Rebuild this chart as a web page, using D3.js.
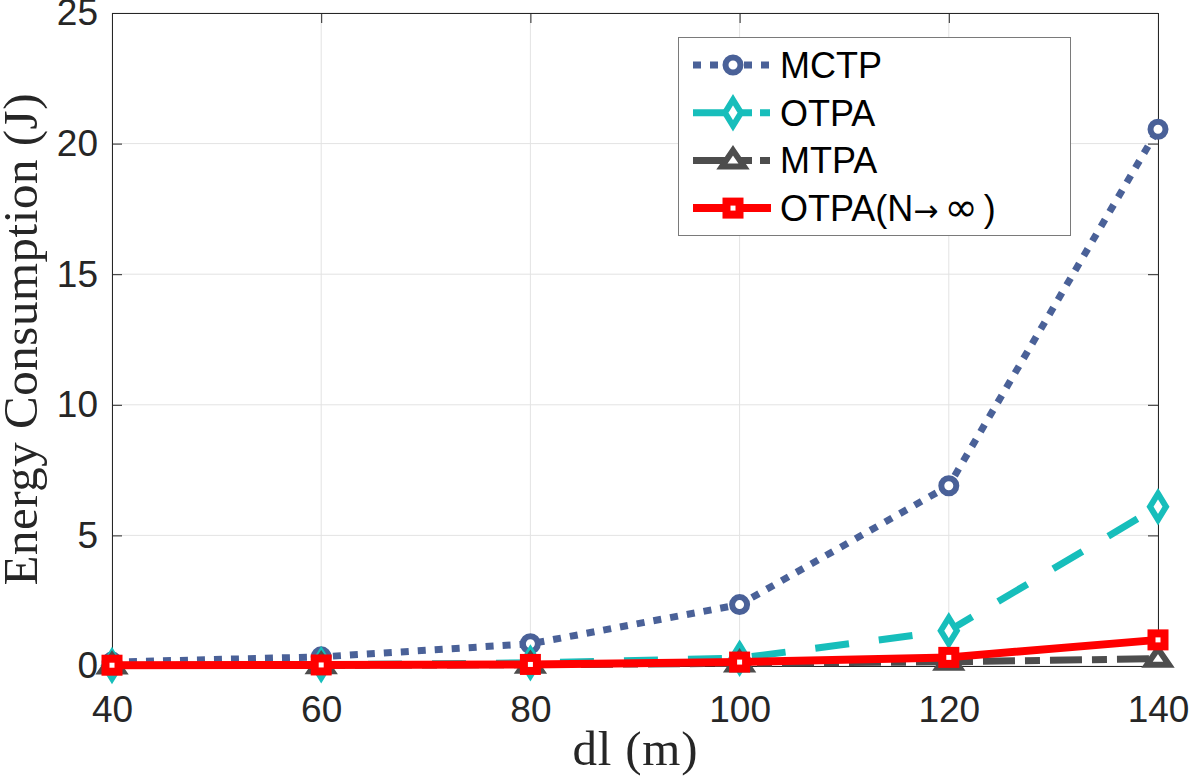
<!DOCTYPE html>
<html>
  <head>
    <meta charset="utf-8">
    <title>Energy Consumption vs dl</title>
    <style>
      body { margin: 0; background: #fff; }
      .tick text { font-family: "Liberation Sans", Arial, sans-serif; font-size: 37px; fill: #262626; }
      .label { font-family: "Liberation Serif", "Times New Roman", serif; font-size: 49px; fill: #262626; }
      .legend text { font-family: "Liberation Sans", Arial, sans-serif; font-size: 36px; fill: #000; }
    </style>
  </head>
  <body>
    <svg width="1193" height="779"></svg>
    <script src="https://d3js.org/d3.v7.min.js"></script>
    <script>
      // values
      const dl = [40, 60, 80, 100, 120, 140];
      const mctp = [0.15, 0.35, 0.85, 2.35, 6.9, 20.55];
      const otpa = [0.02, 0.05, 0.12, 0.3, 1.35, 6.1];
      const mtpa = [0.02, 0.03, 0.05, 0.1, 0.16, 0.28];
      const otpaInf = [0.03, 0.04, 0.06, 0.15, 0.33, 1.0];

      const xTicks = [40, 60, 80, 100, 120, 140];
      const yTicks = [0, 5, 10, 15, 20, 25];
      const names = ["MCTP", "OTPA", "MTPA", "OTPA(N\u2192\u221E)"];

      const series = [
        { name: names[0], values: mctp, color: "#4a6198", dash: "8,9", width: 7, marker: "circle" },
        { name: names[1], values: otpa, color: "#17bebb", dash: "34,30", width: 7, marker: "diamond", legendDash: "59,8,10,40" },
        { name: names[2], values: mtpa, color: "#4d4d4d", dash: "32,10,15,10", width: 7, marker: "triangle", legendDash: "59,8,10,40" },
        { name: names[3], values: otpaInf, color: "#ff0000", dash: null, width: 8, marker: "square" }
      ];

      const margin = { left: 112, right: 35, top: 13, bottom: 113 };
      const W = 1193, H = 779;
      const svg = d3.select("svg");

      const x = d3.scaleLinear().domain([40, 140]).range([margin.left, W - margin.right]);
      const y = d3.scaleLinear().domain([0, 25]).range([H - margin.bottom, margin.top]);

      // grid
      svg.append("g").selectAll("line").data(xTicks).join("line")
        .attr("x1", d => x(d)).attr("x2", d => x(d))
        .attr("y1", y(0)).attr("y2", y(25))
        .attr("stroke", "#e3e3e3").attr("stroke-width", 1);
      svg.append("g").selectAll("line").data(yTicks).join("line")
        .attr("x1", x(40)).attr("x2", x(140))
        .attr("y1", d => y(d)).attr("y2", d => y(d))
        .attr("stroke", "#e3e3e3").attr("stroke-width", 1);

      // axes, ticks pointing inside
      svg.append("g").attr("transform", `translate(0,${y(0)})`)
        .call(d3.axisBottom(x).tickValues(xTicks).tickSize(-10).tickPadding(30).tickSizeOuter(0));
      svg.append("g").attr("transform", `translate(${x(40)},0)`)
        .call(d3.axisLeft(y).tickValues(yTicks).tickSize(-10).tickPadding(14).tickSizeOuter(0));
      svg.append("g").attr("transform", `translate(0,${y(25)})`)
        .call(d3.axisTop(x).tickValues(xTicks).tickSize(-10).tickFormat("").tickSizeOuter(0));
      svg.append("g").attr("transform", `translate(${x(140)},0)`)
        .call(d3.axisRight(y).tickValues(yTicks).tickSize(-10).tickFormat("").tickSizeOuter(0));
      svg.selectAll(".domain, .tick line").attr("stroke", "#262626").attr("stroke-width", 1);
      svg.selectAll(".tick text").style("font-family", "'Liberation Sans', Arial, sans-serif");

      // labels
      svg.append("text").attr("class", "label")
        .attr("x", (x(40) + x(140)) / 2).attr("y", 765)
        .attr("text-anchor", "middle")
        .attr("textLength", 125).attr("lengthAdjust", "spacing")
        .text("dl (m)");
      svg.append("text").attr("class", "label")
        .attr("transform", `translate(37,${(y(0) + y(25)) / 2}) rotate(-90)`)
        .attr("text-anchor", "middle")
        .attr("textLength", 492).attr("lengthAdjust", "spacing")
        .text("Energy Consumption (J)");

      function drawMarker(g, type, color, cx, cy) {
        if (type === "circle") {
          g.append("circle").attr("cx", cx).attr("cy", cy).attr("r", 7.5)
            .attr("fill", "#fff").attr("stroke", color).attr("stroke-width", 6);
        } else if (type === "diamond") {
          g.append("path").attr("d", `M${cx},${cy - 13}L${cx + 8},${cy}L${cx},${cy + 13}L${cx - 8},${cy}Z`)
            .attr("fill", "#fff").attr("stroke", color).attr("stroke-width", 6).attr("stroke-linejoin", "miter");
        } else if (type === "triangle") {
          g.append("path").attr("d", `M${cx},${cy - 10}L${cx + 11},${cy + 6}L${cx - 11},${cy + 6}Z`)
            .attr("fill", "#fff").attr("stroke", color).attr("stroke-width", 6).attr("stroke-linejoin", "miter");
        } else {
          g.append("rect").attr("x", cx - 6.5).attr("y", cy - 6.5).attr("width", 13).attr("height", 13)
            .attr("fill", "#fff").attr("stroke", color).attr("stroke-width", 8);
        }
      }

      const line = d3.line().x((d, i) => x(dl[i])).y(d => y(d));

      series.forEach(s => {
        const g = svg.append("g");
        g.append("path").datum(s.values)
          .attr("d", line)
          .attr("fill", "none")
          .attr("stroke", s.color)
          .attr("stroke-width", s.width)
          .attr("stroke-dasharray", s.dash)
          .attr("stroke-linejoin", "round");
        s.values.forEach((v, i) => drawMarker(g, s.marker, s.color, x(dl[i]), y(v)));
      });

      // legend
      const lg = svg.append("g").attr("class", "legend");
      lg.append("rect").attr("x", 678.5).attr("y", 37.5).attr("width", 392).attr("height", 198)
        .attr("fill", "#fff").attr("stroke", "#7a7a7a").attr("stroke-width", 1);
      series.forEach((s, i) => {
        const cy = 65 + i * 47.7;
        lg.append("line").attr("x1", 693).attr("x2", 771).attr("y1", cy).attr("y2", cy)
          .attr("stroke", s.color).attr("stroke-width", s.width)
          .attr("stroke-dasharray", s.legendDash || s.dash);
        drawMarker(lg, s.marker, s.color, 733, cy);
        const t = lg.append("text").attr("x", 780).attr("y", cy + 13);
        if (i === 3) {
          // arrow and infinity drawn larger, as in the reference
          t.append("tspan").text("OTPA(N");
          t.append("tspan").style("font-family", "'DejaVu Sans', sans-serif").style("font-size", "30px").text("\u2192");
          t.append("tspan").attr("dx", 6).style("font-family", "'DejaVu Sans', sans-serif").style("font-size", "40px").text("\u221E");
          t.append("tspan").attr("dx", 6).text(")");
        } else {
          t.text(s.name);
        }
      });
    </script>
  </body>
</html>
